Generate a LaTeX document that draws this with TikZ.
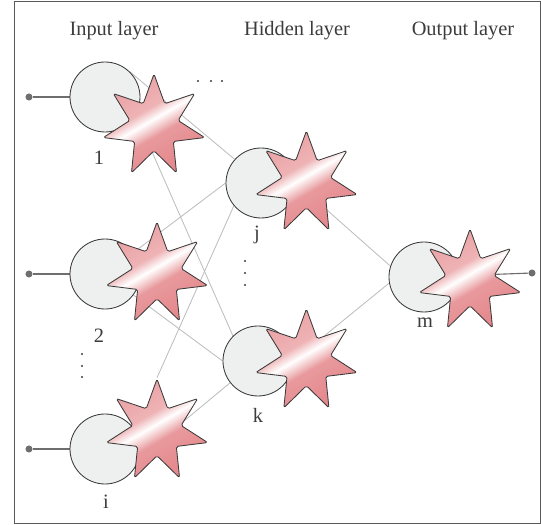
\documentclass[tikz,border=0pt]{standalone}
\usepackage{fontspec}
\setmainfont{Liberation Serif}
\usepackage{tikz}
\usetikzlibrary{shapes.geometric, backgrounds}

\definecolor{cellfill}{HTML}{EEF0EF}
\definecolor{cellline}{HTML}{3A3A3A}
\definecolor{pinktop}{HTML}{EAA0A3}
\definecolor{pinkbot}{HTML}{E4878B}
\definecolor{wiregray}{HTML}{BDBDBD}
\definecolor{feedgray}{HTML}{6E6E6E}
\definecolor{textgray}{HTML}{3C3C3C}
\definecolor{framegray}{HTML}{5A5A5A}

% pink with a thin white streak
\pgfdeclareverticalshading{spikeshade}{100bp}{color(0bp)=(pinkbot); color(25bp)=(pinkbot); color(44bp)=(pinkbot!85!white); color(52bp)=(white); color(58bp)=(pinktop!80!white); color(75bp)=(pinktop); color(100bp)=(pinktop)}

\begin{document}
\begin{tikzpicture}[
    cell/.style={circle, draw=cellline, line width=0.6pt, fill=cellfill, minimum size=1.75cm, inner sep=0pt},
    spike/.style={star, star points=7, star point ratio=2.1, draw=cellline, line width=0.6pt, shading=spikeshade, shading angle=30, minimum size=2.6cm, inner sep=0pt, rounded corners=1.2pt},
    wire/.style={draw=wiregray, line width=0.6pt},
    feed/.style={draw=feedgray, line width=0.8pt},
    endpt/.style={circle, fill=feedgray, minimum size=5pt, inner sep=0pt},
    tag/.style={font=\fontsize{14.5}{17}\selectfont, text=textgray, inner sep=0pt},
    ldot/.style={circle, fill=textgray, minimum size=1.6pt, inner sep=0pt}
]
\useasboundingbox (0,0) rectangle (13.525,13.125);
\draw[framegray, line width=0.7pt] (0.35,0.05) rectangle (13.5,13.1);

% Layer titles
\node[tag] (tin) at (2.85, 12.35) {Input layer};
\node[tag] (thid) at (7.425, 12.35) {Hidden layer};
\node[tag] (tout) at (11.575, 12.35) {Output layer};

% Input layer
\node[cell] (c1) at (2.625, 10.7) {};
\node[spike] (s1) at (3.85, 9.975) {};
\node[cell] (c2) at (2.625, 6.275) {};
\node[spike] (s2) at (3.925, 6.275) {};
\node[cell] (ci) at (2.625, 1.9) {};
\node[spike] (si) at (3.925, 2.35) {};

% Hidden layer
\node[cell] (cj) at (6.525, 8.55) {};
\node[spike] (sj) at (7.66, 8.55) {};
\node[cell] (ck) at (6.45, 4.1) {};
\node[spike] (sk) at (7.66, 4.1) {};

% Output layer
\node[cell] (cm) at (10.6, 6.2) {};
\node[spike] (sm) at (11.75, 6.1) {};

% Neuron labels
\node[tag] (l1) at (2.475, 9.175) {1};
\node[tag] (l2) at (2.475, 4.725) {2};
\node[tag] (li) at (2.65, 0.575) {i};
\node[tag] (lj) at (6.425, 7.25) {j};
\node[tag] (lk) at (6.45, 2.75) {k};
\node[tag] (lm) at (10.625, 5.05) {m};

% Input and output terminals
\node[endpt] (in1) at (0.725, 10.7) {};
\node[endpt] (in2) at (0.725, 6.275) {};
\node[endpt] (ini) at (0.725, 1.9) {};
\node[endpt] (outm) at (13.3, 6.3) {};

% Ellipsis dots
\foreach \x in {4.95, 5.275, 5.55} \node[ldot] at (\x, 11.1) {};
\foreach \y in {4.275, 3.975, 3.7} \node[ldot] at (2.05, \y) {};
\foreach \y in {6.6, 6.3, 6.0} \node[ldot] at (6.125, \y) {};

\begin{scope}[on background layer]
% Feed lines
\draw[feed] (in1) -- (c1);
\draw[feed] (in2) -- (c2);
\draw[feed] (ini) -- (ci);
\draw[feed] (cm) -- (outm);

% Input to hidden
\draw[wire] (c1.north east) -- (cj.138);
\draw[wire] (c1.-30) -- (ck.135);
\draw[wire] (c2) -- (cj.west);
\draw[wire] (c2) -- (ck.west);
\draw[wire] (si.north) -- (cj.220);
\draw[wire] (ci.-15) -- (ck.218);

% Hidden to output
\draw[wire] (cj.east) -- (cm.162);
\draw[wire] (ck.east) -- (cm.190);
\end{scope}

\end{tikzpicture}
\end{document}
